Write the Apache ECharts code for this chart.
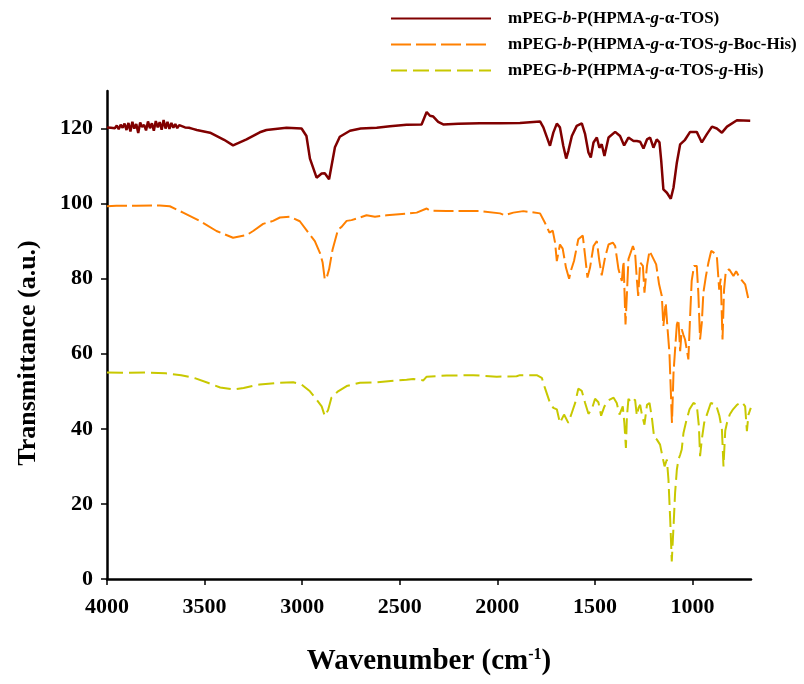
<!DOCTYPE html>
<html>
<head>
<meta charset="utf-8">
<script src="https://cdn.jsdelivr.net/npm/echarts@6/dist/echarts.min.js"></script>
<style>html,body{margin:0;padding:0;background:#fff}#c{width:804px;height:684px}</style>
</head>
<body>
<div id="c"></div>
<script>
// Series names
const names = ['s1', 's2', 's3'];
// Tick labels
const xTicks = [1000, 1500, 2000, 2500, 3000, 3500, 4000];
const yTicks = [0, 20, 40, 60, 80, 100, 120];

// Series 1: mPEG-b-P(HPMA-g-α-TOS)
const wn1 = [4000,3990,3980,3970,3960,3950,3940,3930,3920,3910,3900,3890,3880,3870,3860,3850,3840,3830,3820,3810,3800,3790,3780,3770,3760,3750,3740,3730,3720,3710,3700,3690,3680,3670,3660,3650,3640,3630,3620,3600,3580,3560,3540,
 3472,3400,3354,3285,3217,3183,3080,3003,2978,2960,2926,2900,2884,2862,2832,2807,2755,2700,2618,2550,2465,2388,2362,2345,2328,2303,2277,2200,2089,1986,1884,1781,
 1764,1730,1713,1695,1679,1662,1647,1636,1618,1593,1567,1550,1533,1521,1507,1490,1477,1465,1451,1430,1396,1371,1350,1328,1302,1285,1268,1251,1233,1217,1200,1183,1169,1160,1149,1131,1111,1097,1080,1063,1038,1012,978,952,926,900,875,849,823,772,704];
const t1 = [120.3,120.5,120.2,120.7,120.1,120.8,119.8,121.0,120.2,121.3,119.6,121.5,119.2,121.8,120.0,121.2,118.8,121.6,120.4,121.0,119.5,121.9,120.1,121.4,119.4,122.0,120.3,121.7,119.7,122.3,120.0,121.8,119.9,121.5,120.2,121.2,120.1,120.9,120.5,120.3,120.2,119.9,119.6,
 118.9,117.0,115.5,117.1,119.0,119.6,120.2,120.0,118.0,112.0,106.9,108.0,108.1,106.5,115.0,117.8,119.4,120.0,120.2,120.6,121.0,121.1,124.4,123.4,123.2,121.8,121.1,121.3,121.4,121.4,121.5,121.9,
 120.3,115.4,118.9,121.3,120.3,115.4,112.0,114.0,118.0,120.7,121.4,118.5,113.6,112.3,116.3,117.6,114.9,115.8,112.7,117.6,119.1,118.0,115.5,117.6,116.7,116.7,116.5,114.7,117.1,117.6,114.9,117.1,116.3,111.4,103.8,102.9,101.3,104.3,110.9,115.8,117.0,119.1,119.1,116.3,118.5,120.5,120.0,118.9,120.5,122.2,122.1];

// Series 2: mPEG-b-P(HPMA-g-α-TOS-g-Boc-His)
const wn2 = [4000,3952,3850,3730,3678,3610,3525,3439,3354,3285,3251,3200,3149,3114,3063,3012,2969,2935,2909,2895,2884,2873,2862,2844,2816,2798,2772,2747,2704,2670,2627,2567,2465,2413,2362,2345,2260,2089,1986,1961,1918,1867,1781,
 1756,1733,1716,1704,1695,1679,1665,1648,1632,1622,1607,1585,1562,1550,1538,1525,1507,1490,1477,1465,1448,1430,1408,1396,1379,1362,1353,1343,1336,1328,1305,1294,1285,1278,1268,1254,1246,1233,1220,1203,1186,1171,1157,1149,1137,1128,1118,1114,1105,1097,1089,1080,1072,1063,1055,1046,1038,1029,1021,1012,1004,992,978,970,961,952,944,931,918,904,892,875,863,855,846,838,829,812,790,776,759,730,713,701];
const t2 = [99.3,99.4,99.4,99.5,99.3,97.6,95.4,92.7,90.9,91.6,92.7,94.6,95.4,96.3,96.5,95.3,92.3,90.0,86.9,84.3,79.8,80.5,82.5,87.8,93.1,93.8,95.4,95.6,96.3,96.9,96.5,96.9,97.3,97.6,98.7,98.1,98.0,98.0,97.4,96.9,97.6,98.0,97.4,
 94.9,92.3,92.8,89.6,84.7,89.1,88.0,82.9,80.0,82.3,84.7,90.5,91.5,86.0,80.3,82.9,88.7,90.0,84.7,80.9,85.6,89.1,89.6,88.7,82.5,79.4,84.7,67.8,75.8,85.2,88.7,86.9,79.8,75.4,84.3,83.4,76.3,83.4,87.4,85.6,83.8,78.5,75.4,67.4,73.6,66.9,60.3,54.5,41.6,55.0,61.1,67.8,69.1,60.7,66.5,65.0,63.8,61.1,58.5,70.0,79.4,83.4,83.4,76.3,63.8,68.3,76.3,80.7,84.3,87.4,87.0,86.0,77.1,80.0,63.8,77.1,82.0,82.5,80.7,82.0,80.3,78.5,74.5,74.5];

// Series 3: mPEG-b-P(HPMA-g-α-TOS-g-His)
const wn3 = [4000,3900,3800,3700,3620,3550,3480,3420,3354,3300,3250,3217,3114,3046,3003,2960,2926,2900,2884,2867,2850,2816,2772,2704,2618,2465,2431,2379,2362,2260,2123,2003,1901,1884,1798,
 1772,1756,1730,1713,1695,1679,1658,1636,1618,1601,1585,1567,1550,1533,1516,1499,1482,1468,1451,1430,1404,1388,1374,1357,1349,1341,1336,1328,1311,1294,1285,1276,1268,1259,1246,1233,1220,1208,1196,1183,1166,1154,1143,1131,1123,1114,1106,1097,1089,1080,1072,1063,1055,1046,1032,1015,995,978,967,961,952,940,926,906,879,862,849,841,832,823,809,792,772,746,730,721,713,701];
const t3 = [55.0,54.9,55.0,54.8,54.3,53.5,52.2,51.0,50.5,50.9,51.5,51.8,52.3,52.4,51.8,50.0,47.8,46.0,43.4,45.0,48.3,50.0,51.4,52.3,52.4,53.1,53.3,52.9,53.9,54.2,54.3,53.9,54.0,54.3,54.3,
 53.6,50.9,46.9,45.6,45.2,41.6,43.8,41.6,44.3,46.9,50.7,50.1,46.9,44.0,45.2,48.0,47.1,43.5,46.0,47.6,48.3,46.9,43.8,46.0,41.6,34.9,43.0,48.0,46.9,47.8,43.5,45.6,46.4,43.8,41.1,46.4,46.9,43.0,37.6,37.2,35.8,32.7,30.0,31.8,26.5,15.8,4.7,14.0,22.9,29.1,31.8,33.1,34.5,38.9,42.0,45.2,46.9,46.4,40.7,32.7,37.2,41.6,43.8,46.9,46.4,43.5,39.8,30.0,39.5,41.6,43.8,45.2,46.4,47.1,46.0,39.4,43.8,45.6];

const zip = (a, b) => a.map((v, i) => [v, b[i]]);
const FONT = "'Liberation Serif','Times New Roman',serif";

const legendRich = {
  r: { fontFamily: FONT, fontWeight: 'bold', fontSize: 17, lineHeight: 14, color: '#000' },
  i: { fontFamily: FONT, fontWeight: 'bold', fontStyle: 'italic', fontSize: 17, lineHeight: 14, color: '#000' }
};
const labels = {
  s1: '{r|mPEG-}{i|b}{r|-P(HPMA-}{i|g}{r|-α-TOS)}',
  s2: '{r|mPEG-}{i|b}{r|-P(HPMA-}{i|g}{r|-α-TOS-}{i|g}{r|-Boc-His)}',
  s3: '{r|mPEG-}{i|b}{r|-P(HPMA-}{i|g}{r|-α-TOS-}{i|g}{r|-His)}'
};

const chart = echarts.init(document.getElementById('c'));
chart.setOption({
  animation: false,
  backgroundColor: '#fff',
  grid: { left: 107, right: 53, top: 91, bottom: 105, containLabel: false, outerBoundsMode: 'none' },
  legend: {
    orient: 'vertical', left: 385, top: 5,
    itemWidth: 100, itemHeight: 14, itemGap: 9,
    itemStyle: { opacity: 0 },
    formatter: n => labels[n],
    textStyle: { rich: legendRich, padding: [0, 0, 0, 12] },
    data: names
  },
  xAxis: {
    type: 'value', inverse: true, min: 700, max: 4000,
    splitLine: { show: false },
    axisLine: { lineStyle: { color: '#000', width: 2.5 } },
    axisTick: { show: true, length: 6, customValues: xTicks, lineStyle: { color: '#000', width: 1.5 } },
    axisLabel: { customValues: xTicks, formatter: v => String(v), margin: 17, fontFamily: FONT, fontWeight: 'bold', fontSize: 22, color: '#000' },
    name: '{t|Wavenumber (cm}{s|-1}{t|)}',
    nameLocation: 'middle', nameGap: 68,
    nameTextStyle: {
      rich: {
        t: { fontFamily: FONT, fontWeight: 'bold', fontSize: 29, color: '#000' },
        s: { fontFamily: FONT, fontWeight: 'bold', fontSize: 16, color: '#000', verticalAlign: 'top', padding: [0, 0, 14, 0] }
      }
    }
  },
  yAxis: {
    type: 'value', min: 0, max: 130,
    splitLine: { show: false },
    axisLine: { show: true, lineStyle: { color: '#000', width: 2.5 } },
    axisTick: { show: true, length: 6, customValues: yTicks, lineStyle: { color: '#000', width: 1.5 } },
    axisLabel: { customValues: yTicks, formatter: v => String(v), margin: 14, fontFamily: FONT, fontWeight: 'bold', fontSize: 22, color: '#000' },
    name: 'Transmittance (a.u.)',
    nameLocation: 'middle', nameGap: 66, nameRotate: 90,
    nameTextStyle: { fontFamily: FONT, fontWeight: 'bold', fontSize: 26, color: '#000', padding: [0, 36, 0, 0] }
  },
  series: [
    { name: 's1', type: 'line', data: zip(wn1, t1), symbol: 'none', color: '#800000',
      lineStyle: { color: '#800000', width: 2.5 } },
    { name: 's2', type: 'line', data: zip(wn2, t2), symbol: 'none', color: '#FF8000',
      lineStyle: { color: '#FF8000', width: 2, type: [20, 5] } },
    { name: 's3', type: 'line', data: zip(wn3, t3), symbol: 'none', color: '#C8C800',
      lineStyle: { color: '#C8C800', width: 2, type: [16, 6] } }
  ]
});
</script>
</body>
</html>
